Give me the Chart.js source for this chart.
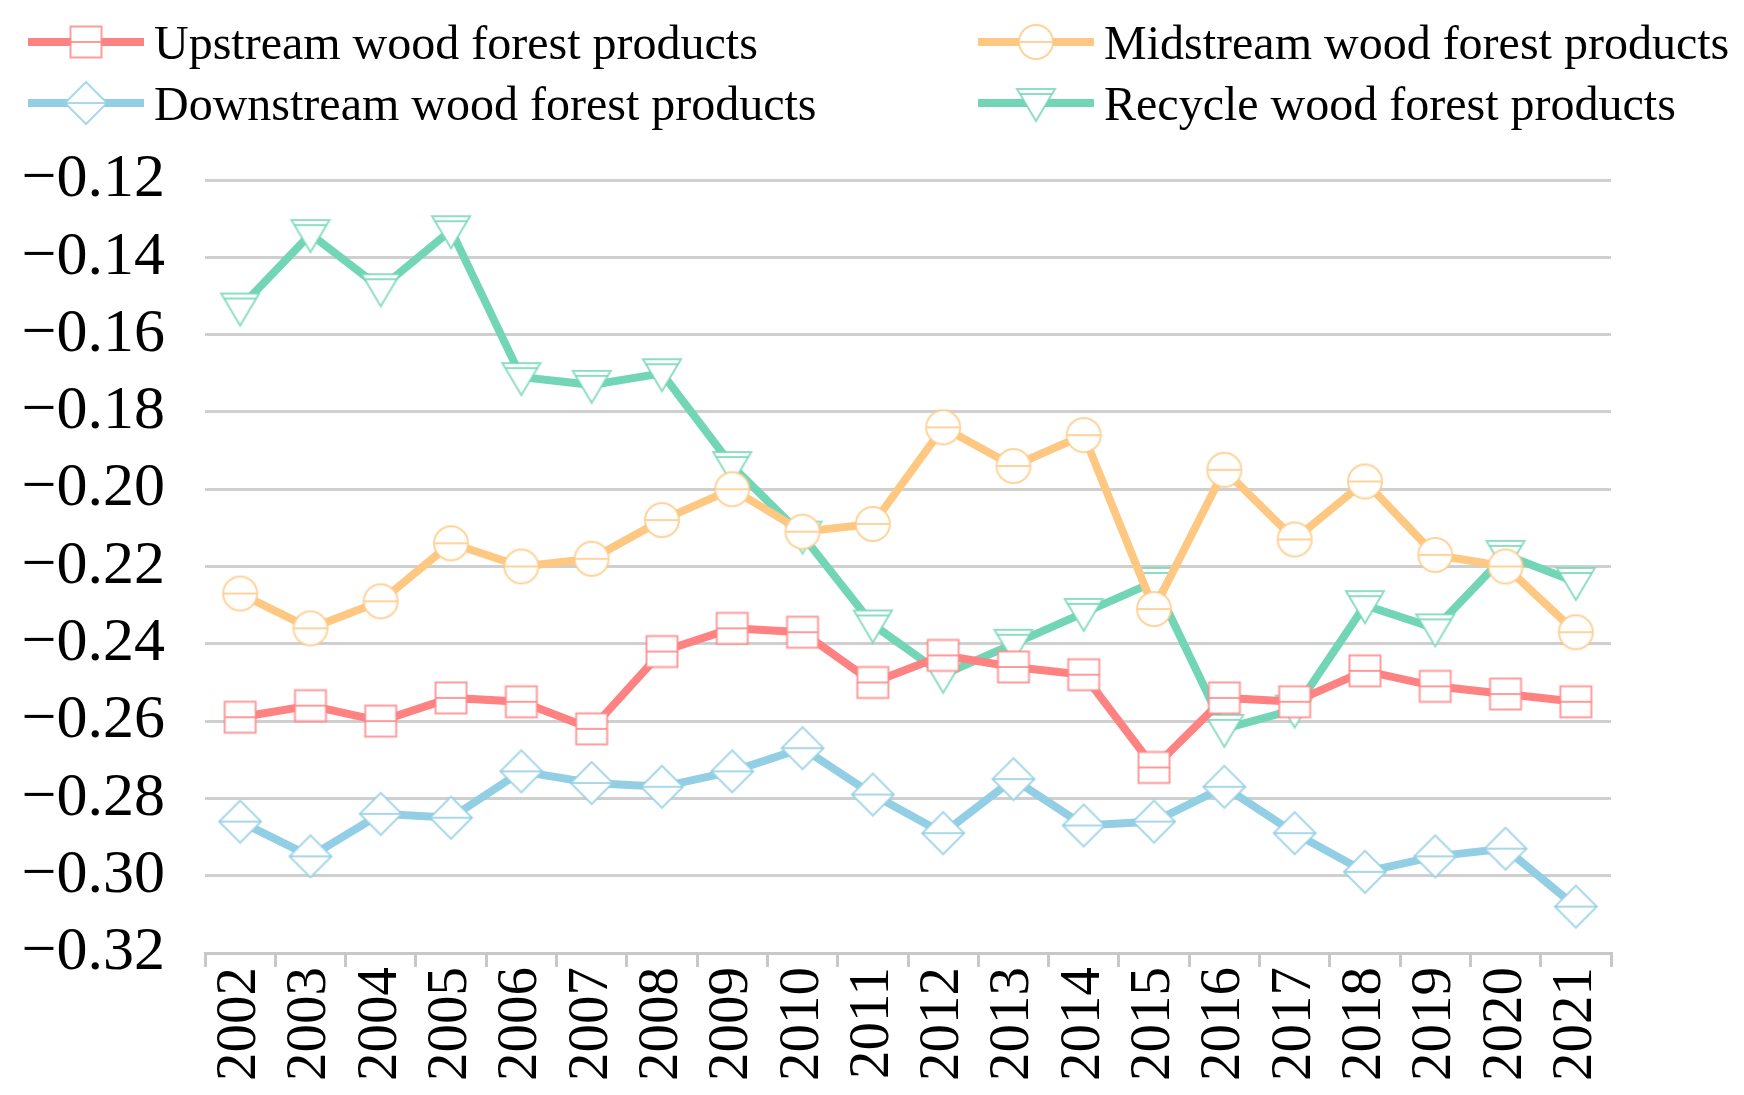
<!DOCTYPE html>
<html>
<head>
<meta charset="utf-8">
<script src="https://cdn.jsdelivr.net/npm/chart.js@4.4.1/dist/chart.umd.min.js"></script>
<style>
  body { margin: 0; background: #fff; }
  #wrap { position: relative; width: 1744px; height: 1095px; }
  #legend { position: absolute; left: 0; top: 0; width: 1744px; height: 140px;
            font-family: "Liberation Serif", "Times New Roman", serif; font-size: 48px; color: #000; }
  .item { position: absolute; display: flex; align-items: center; height: 56px; white-space: nowrap; }
  .item canvas { margin-right: 10px; }
</style>
</head>
<body>
<div id="wrap">
  <canvas id="chart" width="1744" height="1095"></canvas>
  <div id="legend"></div>
</div>
<script>
// data
const years = ["2002","2003","2004","2005","2006","2007","2008","2009","2010","2011",
               "2012","2013","2014","2015","2016","2017","2018","2019","2020","2021"];
const upstream   = [-0.259,-0.256,-0.260,-0.254,-0.255,-0.262,-0.242,-0.236,-0.237,-0.250,
                    -0.243,-0.246,-0.248,-0.272,-0.254,-0.255,-0.247,-0.251,-0.253,-0.255];
const midstream  = [-0.227,-0.236,-0.229,-0.214,-0.220,-0.218,-0.208,-0.200,-0.211,-0.209,
                    -0.184,-0.194,-0.186,-0.231,-0.195,-0.213,-0.198,-0.217,-0.220,-0.237];
const downstream = [-0.286,-0.295,-0.284,-0.285,-0.273,-0.276,-0.277,-0.273,-0.267,-0.279,
                    -0.289,-0.275,-0.287,-0.286,-0.277,-0.289,-0.299,-0.295,-0.293,-0.308];
const recycle    = [-0.153,-0.134,-0.148,-0.133,-0.171,-0.173,-0.170,-0.194,-0.212,-0.235,
                    -0.248,-0.240,-0.232,-0.224,-0.262,-0.257,-0.230,-0.236,-0.217,-0.224];
const yTicks = [-0.32,-0.30,-0.28,-0.26,-0.24,-0.22,-0.20,-0.18,-0.16,-0.14,-0.12];

const FONT = '"Liberation Serif", "Times New Roman", serif';

const series = [
  { name: "Upstream wood forest products",   data: upstream,   color: "#ff8282", mark: "square"   },
  { name: "Midstream wood forest products",  data: midstream,  color: "#ffc882", mark: "circle"   },
  { name: "Downstream wood forest products", data: downstream, color: "#92cee4", mark: "diamond"  },
  { name: "Recycle wood forest products",    data: recycle,    color: "#72d6b6", mark: "triangle" }
];

// hollow marker with the little bar across it, like the original
function drawMarker(g, shape, color, cx, cy) {
  g.save();
  g.strokeStyle = color;
  g.lineWidth = 2;
  g.fillStyle = "#fff";
  g.beginPath();
  if (shape === "square") g.rect(cx - 15.5, cy - 15.5, 31, 31);
  else if (shape === "circle") g.arc(cx, cy, 17, 0, Math.PI * 2);
  else if (shape === "diamond") {
    g.moveTo(cx, cy - 21); g.lineTo(cx + 21, cy); g.lineTo(cx, cy + 21); g.lineTo(cx - 21, cy); g.closePath();
  } else {
    g.moveTo(cx - 19, cy - 14); g.lineTo(cx + 19, cy - 14); g.lineTo(cx, cy + 18); g.closePath();
  }
  g.fill();
  g.globalAlpha = 0.8;
  g.stroke();
  g.beginPath();
  if (shape === "square") { g.moveTo(cx - 15.5, cy); g.lineTo(cx + 15.5, cy); }
  else if (shape === "circle") { g.moveTo(cx - 16, cy); g.lineTo(cx + 16, cy); }
  else if (shape === "diamond") { g.moveTo(cx - 21, cy); g.lineTo(cx + 21, cy); }
  else { g.moveTo(cx - 16, cy - 9); g.lineTo(cx + 16, cy - 9); }
  g.stroke();
  g.restore();
}

function makeMarker(shape, color) {
  const c = document.createElement("canvas");
  c.width = 46; c.height = 46;
  drawMarker(c.getContext("2d"), shape, color, 23, 23);
  return c;
}

// html legend, two columns
const legend = document.getElementById("legend");
const spots = [[28, 14], [978, 14], [28, 75], [978, 75]];
series.forEach((s, i) => {
  const item = document.createElement("div");
  item.className = "item";
  item.style.left = spots[i][0] + "px";
  item.style.top = spots[i][1] + "px";
  const cv = document.createElement("canvas");
  cv.width = 116; cv.height = 56;
  const g = cv.getContext("2d");
  g.strokeStyle = s.color; g.lineWidth = 8;
  g.beginPath(); g.moveTo(0, 28); g.lineTo(116, 28); g.stroke();
  drawMarker(g, s.mark, s.color, 58, 28);
  const span = document.createElement("span");
  span.textContent = s.name;
  item.appendChild(cv);
  item.appendChild(span);
  legend.appendChild(item);
});

new Chart(document.getElementById("chart"), {
  type: "line",
  data: {
    labels: years,
    datasets: series.map(s => ({
      label: s.name,
      data: s.data,
      borderColor: s.color,
      borderWidth: 8,
      tension: 0,
      pointStyle: makeMarker(s.mark, s.color),
      pointRadius: 10
    }))
  },
  options: {
    responsive: false,
    animation: false,
    layout: { padding: { top: 180, right: 133, left: 0, bottom: 0 } },
    plugins: { legend: { display: false }, tooltip: { enabled: false } },
    scales: {
      x: {
        offset: true,
        grid: { offset: true, drawOnChartArea: false, color: "#c8c8c8", lineWidth: 3, tickLength: 14 },
        border: { color: "#c8c8c8", width: 3 },
        ticks: { autoSkip: false, maxRotation: 90, minRotation: 90, padding: 0, color: "#000",
                 font: { family: FONT, size: 57 } },
        afterFit: s => { s.height = 142; }
      },
      y: {
        min: -0.32, max: -0.12,
        afterBuildTicks: s => { s.ticks = yTicks.map(v => ({ value: v })); },
        grid: { color: "#cfcfcf", lineWidth: 3, drawTicks: false },
        border: { display: false },
        ticks: { autoSkip: false, padding: 40, color: "#000", font: { family: FONT, size: 62 },
                 callback: v => "\u2212" + Math.abs(v).toFixed(2) },
        afterFit: s => { s.width = 205; }
      }
    }
  }
});
</script>
</body>
</html>
